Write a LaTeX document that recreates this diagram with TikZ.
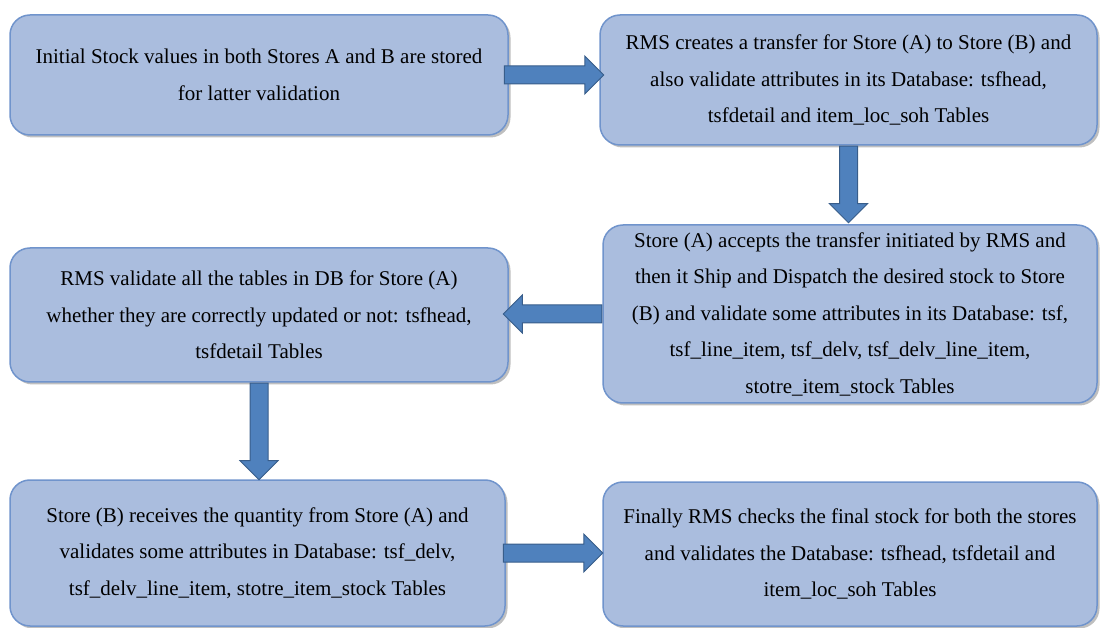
\documentclass[tikz,border=0pt]{standalone}
\usepackage{fontspec}
\setmainfont{Liberation Serif}
\usepackage{xcolor}
\usepackage{tikz}
\usetikzlibrary{arrows,positioning,shapes,shapes.arrows,shadows,calc}

\definecolor{boxfill}{RGB}{170,189,222}
\definecolor{boxborder}{RGB}{112,148,204}
\definecolor{arrowfill}{RGB}{79,129,189}
\definecolor{arrowborder}{RGB}{56,93,138}

\begin{document}
\begin{tikzpicture}[x=1pt,y=-1pt,
  every node/.style={font=\fontsize{21}{36.5}\selectfont}
]

\tikzstyle{procbox}=[draw=boxborder,fill=boxfill,line width=1.5pt,rounded corners=20pt,
  align=center,inner sep=0pt,
  drop shadow={shadow xshift=2.5pt,shadow yshift=-2.5pt,fill=black,opacity=0.25}]
\tikzset{block arrow/.style={single arrow,draw=arrowborder,fill=arrowfill,line width=1pt,
  inner xsep=0pt,inner ysep=8.5pt,single arrow head extend=10pt,minimum width=0pt}}
\tikzset{arrow link/.style={to path={
  let \p1=(\tikztostart), \p2=(\tikztotarget),
      \n1={veclen(\x2-\x1,\y2-\y1)}, \n2={atan2(\y2-\y1,\x2-\x1)} in
  node[block arrow,minimum height=\n1,rotate=\n2,anchor=tail] at (\p1) {}}}}

\useasboundingbox (0,0) rectangle (1104,628);

\node[procbox,minimum width=498pt,minimum height=120pt] (b1) at (259,75)
  {Initial Stock values in both Stores A and B are stored\\
   for latter validation};
\node[procbox,minimum width=497pt,minimum height=130pt] (b2) at (848.5,80)
  {RMS creates a transfer for Store (A) to Store (B) and\\
   also validate attributes in its Database: tsfhead,\\
   tsfdetail and item\_loc\_soh Tables};
\node[procbox,minimum width=494pt,minimum height=178pt] (b3) at (850,314)
  {Store (A) accepts the transfer initiated by RMS and\\
   then it Ship and Dispatch the desired stock to Store\\
   (B) and validate some attributes in its Database: tsf,\\
   tsf\_line\_item, tsf\_delv, tsf\_delv\_line\_item,\\
   stotre\_item\_stock Tables};
\node[procbox,minimum width=498pt,minimum height=134pt] (b4) at (259,315)
  {RMS validate all the tables in DB for Store (A)\\
   whether they are correctly updated or not: tsfhead,\\
   tsfdetail Tables};
\node[procbox,minimum width=495pt,minimum height=146pt] (b5) at (257.5,553)
  {Store (B) receives the quantity from Store (A) and\\
   validates some attributes in Database: tsf\_delv,\\
   tsf\_delv\_line\_item, stotre\_item\_stock Tables};
\node[procbox,minimum width=494pt,minimum height=144pt] (b6) at (850,554)
  {Finally RMS checks the final stock for both the stores\\
   and validates the Database: tsfhead, tsfdetail and\\
   item\_loc\_soh Tables};

\path[arrow link]
  ([xshift=-5pt]b1.east) to ([xshift=4pt]b1.east -| b2.west)
  (b2.south) to ([yshift=2pt]b2.south |- b3.north)
  (b3.west) to ([xshift=-5pt]b3.west -| b4.east)
  (b4.south) to (b4.south |- b5.north)
  ([xshift=-3pt]b5.east) to (b5.east -| b6.west);

\end{tikzpicture}
\end{document}
